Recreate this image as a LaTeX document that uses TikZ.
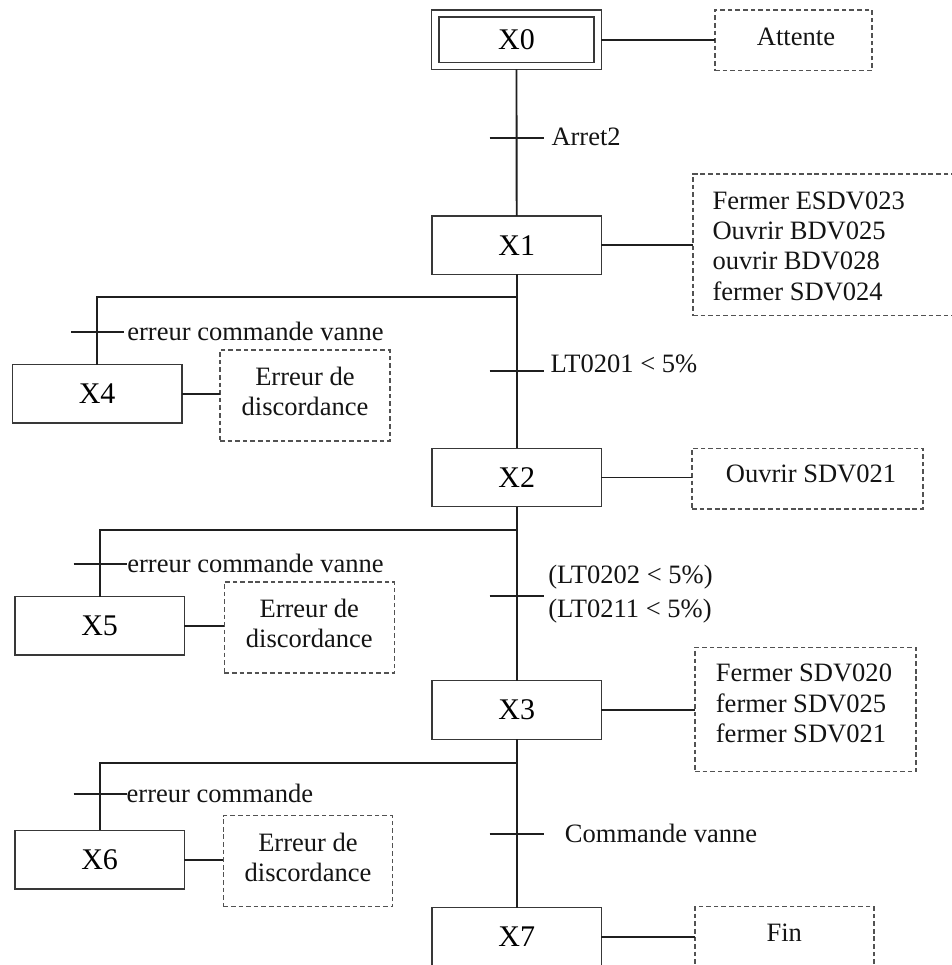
\documentclass[tikz,border=0pt]{standalone}
\usepackage{fontspec}
\setmainfont{Liberation Serif}
\begin{document}
\begin{tikzpicture}[x=0.75pt,y=-0.75pt,
  every node/.style={inner sep=0pt, outer sep=0pt},
  link/.style={line width=1.4pt, draw=black!88},
  bar/.style={line width=1.4pt, draw=black!88},
  stepbox/.style={draw=black!78, line width=1.05pt, minimum width=127.1pt,
    minimum height=43.9pt, font=\fontsize{22.5}{27}\selectfont},
  actbox/.style={draw=black!68, line width=0.9pt, dash pattern=on 3.5pt off 2.2pt},
  acttext/.style={font=\fontsize{19.9}{22.7}\selectfont, text=black!92},
  cond/.style={font=\fontsize{19.9}{22.7}\selectfont, text=black!92, anchor=west}
]
\useasboundingbox (0,0) rectangle (952,965);
\clip (0,0) rectangle (952,965);
\fill[white] (0,0) rectangle (952,965);

% ---------- main sequence of steps ----------
\node[stepbox, minimum height=44.5pt] (X0) at (516.5,39.7) {X0};
\draw[draw=black!78, line width=1.05pt]
  ([xshift=5.5pt,yshift=5.2pt]X0.south west) rectangle ([xshift=-5.5pt,yshift=-5.2pt]X0.north east);
\node[stepbox] (X1) at (516.7,245.2) {X1};
\node[stepbox] (X2) at (516.7,477.5) {X2};
\node[stepbox] (X3) at (516.7,710.0) {X3};
\node[stepbox] (X7) at (516.7,937.0) {X7};

% ---------- error steps ----------
\node[stepbox] (X4) at (97.1,393.8) {X4};
\node[stepbox] (X5) at (99.6,625.8) {X5};
\node[stepbox] (X6) at (99.6,859.7) {X6};

% ---------- action frames ----------
\node[actbox, minimum width=117.75pt, minimum height=45.5pt] (A0) at (793.5,40.3) {};
\node[actbox, minimum width=225pt, minimum height=106.3pt, anchor=west] (A1) at (693,244.9) {};
\node[actbox, minimum width=173.2pt, minimum height=45.5pt] (A2) at (807.5,478.6) {};
\node[actbox, minimum width=165.75pt, minimum height=93.3pt] (A3) at (805.5,709.5) {};
\node[actbox, minimum width=134.25pt, minimum height=68.25pt] (A7) at (784.5,952.2) {};
\node[actbox, minimum width=127.5pt, minimum height=68.25pt] (A4) at (305.0,395.5) {};
\node[actbox, minimum width=127.5pt, minimum height=68.25pt] (A5) at (309.3,627.5) {};
\node[actbox, minimum width=127.0pt, minimum height=68.25pt] (A6) at (308.0,861.2) {};

% ---------- action texts ----------
\node[acttext] (tA0) at (796,37) {Attente};
\node[acttext, anchor=west, align=left] (tA1) at (712.5,246.2)
  {Fermer ESDV023\\Ouvrir BDV025\\ouvrir BDV028\\fermer SDV024};
\node[acttext] (tA2) at (811,474) {Ouvrir SDV021};
\node[acttext, anchor=west, align=left] (tA3) at (715.9,703.6)
  {Fermer SDV020\\fermer SDV025\\fermer SDV021};
\node[acttext] (tA7) at (784.2,932.7) {Fin};
\node[acttext, align=center] (tA4) at (305.0,391.7) {Erreur de\\discordance};
\node[acttext, align=center] (tA5) at (309.3,623.3) {Erreur de\\discordance};
\node[acttext, align=center] (tA6) at (308.0,857.5) {Erreur de\\discordance};

% ---------- step-to-action links ----------
\draw[link] (X0.east) -- (X0.east -| A0.west);
\draw[link] (X1.east) -- (X1.east -| A1.west);
\draw[link] (X2.east) -- (X2.east -| A2.west);
\draw[link] (X3.east) -- (X3.east -| A3.west);
\draw[link] (X7.east) -- (X7.east -| A7.west);
\draw[link] (X4.east) -- (X4.east -| A4.west);
\draw[link] (X5.east) -- (X5.east -| A5.west);
\draw[link] (X6.east) -- (X6.east -| A6.west);

% ---------- main flow ----------
\draw[link] (X0.south) -- (X1.north);
\draw[link] (X1.south) -- (X2.north);
\draw[link] (X2.south) -- (X3.north);
\draw[link] (X3.south) -- (X7.north);

% ---------- branches to error steps ----------
\coordinate (d1) at (516.7,297.3);
\coordinate (d2) at (516.7,529.7);
\coordinate (d3) at (516.7,763.3);
\draw[link] (d1) -| (X4.north);
\draw[link] (d2) -| (X5.north);
\draw[link] (d3) -| (X6.north);

% ---------- transitions ----------
\coordinate (t1) at (516.7,137.7);
\coordinate (t2) at (516.7,370.7);
\coordinate (t3) at (516.7,596.0);
\coordinate (t4) at (516.7,834.0);
\coordinate (e1) at (97.1,332.3);
\coordinate (e2) at (99.6,564.0);
\coordinate (e3) at (99.6,794.3);
\foreach \t in {t1,t2,t3,t4}
  \draw[bar] ([xshift=-20.25pt]\t) -- ([xshift=20.25pt]\t);
\foreach \t in {e1,e2,e3}
  \draw[bar] ([xshift=-19.5pt]\t) -- ([xshift=20.3pt]\t);

% ---------- receptivities ----------
\node[cond] (c1) at (551.5,137) {Arret2};
\node[cond] (c2) at (550.6,363.5) {LT0201 < 5\%};
\node[cond, align=left, font=\fontsize{19.9}{25.7}\selectfont] (c3) at (548.3,594)
  {(LT0202 < 5\%)\\(LT0211 < 5\%)};
\node[cond] (c4) at (564.9,833.5) {Commande vanne};
\node[cond] (c5) at (127.3,331.2) {erreur commande vanne};
\node[cond] (c6) at (127.3,563.3) {erreur commande vanne};
\node[cond] (c7) at (126.7,793.3) {erreur commande};
\end{tikzpicture}
\end{document}
